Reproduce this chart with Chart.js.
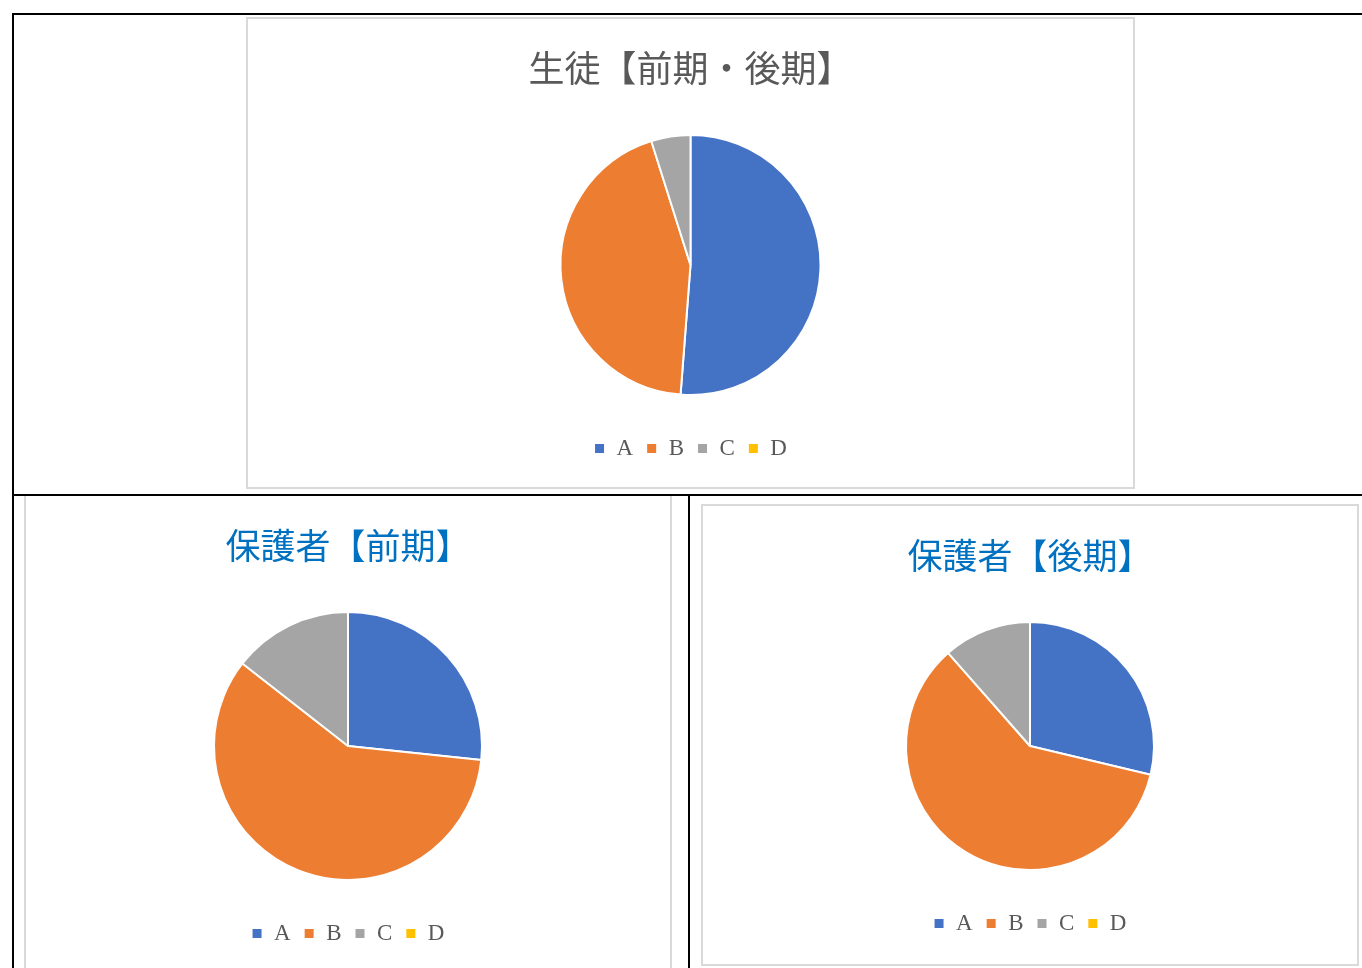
<!DOCTYPE html>
<html lang="ja">
<head>
<meta charset="utf-8">
<title>生徒・保護者</title>
<script src="https://cdn.jsdelivr.net/npm/chart.js@4/dist/chart.umd.min.js"></script>
<style>
  html, body { margin: 0; padding: 0; background: #fff; overflow: hidden; }
  body { width: 1362px; height: 968px; position: relative; }
  .box { position: absolute; border: 2px solid #d9d9d9; background: #fff; }
  .box canvas { display: block; }
  .line { position: absolute; background: #000; z-index: 5; }
</style>
</head>
<body>

<div class="box" style="left:246px; top:17px; width:885px; height:468px;">
  <canvas id="graficoAlumnos" width="885" height="468"></canvas>
</div>
<div class="box" style="left:24px; top:494px; width:644px; height:490px;">
  <canvas id="graficoPadres1" width="644" height="472"></canvas>
</div>
<div class="box" style="left:701px; top:504px; width:654px; height:458px;">
  <canvas id="graficoPadres2" width="654" height="458"></canvas>
</div>

<!-- bordes de la tabla -->
<div class="line" style="left:12px; top:13px; width:1350px; height:2px;"></div>
<div class="line" style="left:12px; top:13px; width:2px; height:955px;"></div>
<div class="line" style="left:12px; top:494px; width:1350px; height:2px;"></div>
<div class="line" style="left:688px; top:494px; width:2px; height:474px;"></div>

<script>
// Datos
const categorias = ['A', 'B', 'C', 'D'];
const alumnos = [21, 18, 2, 0];          // 生徒【前期・後期】
const padresPrimer = [24, 53, 13, 0];    // 保護者【前期】
const padresSegundo = [25, 52, 10, 0];   // 保護者【後期】
const colores = ['#4472C4', '#ED7D31', '#A5A5A5', '#FFC000'];

function crearPastel(id, titulo, colorTitulo, valores, radio, tituloPad, padAbajo) {
  const ctx = document.getElementById(id).getContext('2d');
  return new Chart(ctx, {
    type: 'pie',
    data: {
      labels: categorias,
      datasets: [{
        data: valores,
        backgroundColor: colores,
        borderColor: '#ffffff',
        borderWidth: 2,
        radius: radio
      }]
    },
    options: {
      responsive: false,
      animation: false,
      layout: { padding: { top: 0, bottom: padAbajo, left: 0, right: 0 } },
      plugins: {
        title: {
          display: true,
          text: titulo,
          color: colorTitulo,
          font: { family: '"Noto Sans CJK JP", sans-serif', size: tituloPad.size, weight: 'normal' },
          padding: { top: tituloPad.top, bottom: tituloPad.bottom }
        },
        legend: {
          position: 'bottom',
          labels: {
            boxWidth: 11,
            boxHeight: 11,
            padding: 13,
            color: '#595959',
            font: { family: '"Liberation Serif", serif', size: 23 }
          }
        },
        tooltip: { enabled: false }
      }
    }
  });
}

crearPastel('graficoAlumnos', '生徒【前期・後期】', '#595959', alumnos, 130,
  { size: 36, top: 27.4, bottom: 16.4 }, 17);
crearPastel('graficoPadres1', '保護者【前期】', '#0070C0', padresPrimer, 134,
  { size: 35, top: 28.5, bottom: 16.5 }, 13);
crearPastel('graficoPadres2', '保護者【後期】', '#0070C0', padresSegundo, 124,
  { size: 35, top: 29, bottom: 16 }, 19);
</script>
</body>
</html>
